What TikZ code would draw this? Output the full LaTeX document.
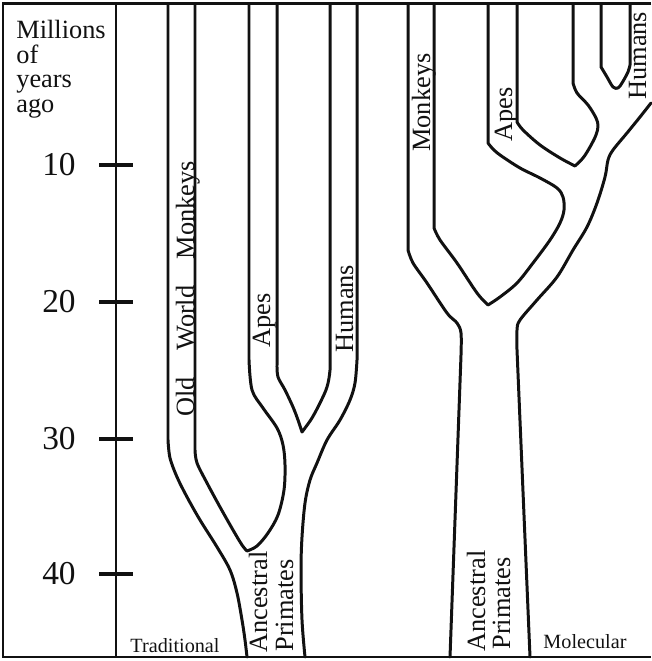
\documentclass[tikz,border=0pt]{standalone}
\usepackage{fontspec}
\setmainfont{Liberation Serif}
\usepackage{tikz}
\usetikzlibrary{calc}
\definecolor{ink}{HTML}{111111}
\tikzset{
  rim/.style={draw=ink,line width=1.7pt},
  branch/.style={draw=ink,line width=1.7pt,line join=round,line cap=round},
  axisline/.style={draw=ink,line width=1.3pt},
  tickmark/.style={draw=ink,line width=1.8pt},
  ticklabel/.style={anchor=east,inner sep=0pt,text=ink,
                    font=\fontsize{19}{21}\selectfont},
  cladelabel/.style={rotate=90,anchor=base west,inner sep=0pt,text=ink,
                     font=\fontsize{15}{17}\selectfont},
  panelname/.style={anchor=base,inner sep=0pt,text=ink,
                    font=\fontsize{11.5}{13}\selectfont}
}

\begin{document}
\begin{tikzpicture}[x=0.02cm,y=0.02cm]
    \path[use as bounding box] (0,0) rectangle (651,661);
    % frame, open on the right
    \draw[rim] (651,657) -- (3,657) -- (3,4) -- (651,4);
    % time axis with ticks every ten million years
    \draw[axisline] (116,657) -- (116,4);
    \foreach \t/\yy in {10/496,20/359,30/222,40/87}{
      \draw[tickmark] (99,\yy) -- (133,\yy);
      \node[ticklabel] (tick\t) at (76,\yy) {\t};
    }
    \node[anchor=north west,inner sep=0pt,align=left,text=ink,
          font=\fontsize{15}{14}\selectfont] (units) at (16,641)
      {Millions\\of\\years\\ago};
    % traditional tree
    \draw[branch] (168,657) -- plot[smooth,tension=.55] coordinates {(168,221)
      (170,203) (177,184) (187,164) (200,141) (217,114) (230,91) (237,68)
      (242,41) (245,21) (247,4)};
    \draw[branch] (195,657) -- plot[smooth,tension=.55] coordinates {(195,211)
      (197,198) (207,178) (220,154) (233,131) (242,116) (247,110)}
      -- plot[smooth,tension=.55] coordinates {(247,110) (257,115) (268,128)
      (278,146) (284,171) (285,196) (283,216) (277,233) (263,253) (252,271)
      (249,301)} -- (249,657);
    \draw[branch] (277,657) -- plot[smooth,tension=.55] coordinates {(277,296)
      (278,284) (285,271) (293,254) (298,241) (302,229)}
      -- plot[smooth,tension=.55] coordinates {(302,229) (305,233) (312,243)
      (320,258) (327,274) (330,291) (330,311)} -- (330,657);
    \draw[branch] (357,657) -- plot[smooth,tension=.55] coordinates {(357,301)
      (355,278) (350,261) (340,241) (327,221) (317,198) (310,181) (305,158)
      (302,124) (301,91) (302,41) (305,4)};
    % molecular tree
    \draw[branch] (408,657) -- plot[smooth,tension=.55] coordinates {(408,411)
      (413,398) (427,378) (447,348) (457,338) (461,328) (461,306)} -- (450,4);
    \draw[branch] (434,657) -- plot[smooth,tension=.55] coordinates {(434,433)
      (440,421) (457,398) (477,368) (488,356)}
      -- plot[smooth,tension=.55] coordinates {(488,356) (500,364) (517,378)
      (533,398) (550,421) (560,438) (564,451) (563,464) (557,473) (540,483)
      (520,493) (500,506) (492,513) (488,518)} -- (488,657);
    \draw[branch] (517,657) -- plot[smooth,tension=.55] coordinates {(517,539)
      (523,531) (540,516) (560,503) (575,495)}
      -- plot[smooth,tension=.55] coordinates {(575,495) (583,503) (590,514)
      (596,526) (598,535) (596,543) (588,556) (577,568) (573,578)} -- (573,657);
    \draw[branch] (601,657) -- plot[smooth,tension=.55] coordinates {(601,594)
      (607,584) (613,574) (618,573) (622,578) (628,589) (630,596)} -- (630,657);
    \draw[branch] plot[smooth,tension=.55] coordinates {(651,558) (640,544)
      (627,528) (613,511) (608,501) (605,484) (597,458) (587,434) (573,411)
      (557,384) (537,361) (520,341) (517,331) (517,311)} -- (530,4);
    % branch names, read bottom to top
    \node[cladelabel] (owm) at (194,244) {Old\quad World\quad Monkeys};
    \node[cladelabel] (apesT) at (270,313) {Apes};
    \node[cladelabel] (humansT) at (353,308) {Humans};
    \node[cladelabel] (ancT) at (267,8) {Ancestral};
    \node[cladelabel] (primT) at (293,9) {Primates};
    \node[cladelabel] (monkM) at (430,509) {Monkeys};
    \node[cladelabel] (apesM) at (512,519) {Apes};
    \node[cladelabel] (ancM) at (485,9) {Ancestral};
    \node[cladelabel] (primM) at (510,11) {Primates};
    \node[cladelabel] (humansM) at (646,561) {Humans};
    \node[panelname] (trad) at (175,9) {Traditional};
    \node[panelname] (mol) at (585,12) {Molecular};
\end{tikzpicture}
\end{document}
